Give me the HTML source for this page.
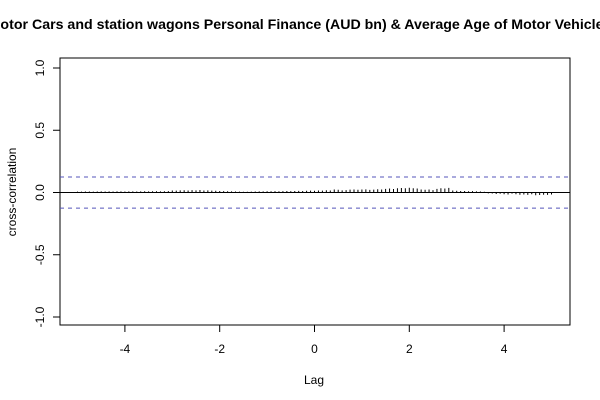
<!DOCTYPE html>
<html><head><meta charset="utf-8"><style>
body{margin:0;background:#fff;}
svg{display:block;font-family:"Liberation Sans",Arial,sans-serif;}
</style></head><body>
<svg id="chart" width="600" height="400">
<text x="300" y="29" text-anchor="middle" font-size="14.2" font-weight="bold">Motor Cars and station wagons Personal Finance (AUD bn) &amp; Average Age of Motor Vehicles</text>
<rect x="60" y="58" width="510" height="267" fill="none" stroke="#000" stroke-width="1"/>
<text x="314" y="384" text-anchor="middle" font-size="12">Lag</text>
<text transform="translate(16,192) rotate(-90)" text-anchor="middle" font-size="12">cross-correlation</text>
<g id="g"></g>
</svg>
<script>
const xTicks=[-4,-2,0,2,4];
const yTicks=[-1.0,-0.5,0.0,0.5,1.0];
const yTickLabels=["-1.0","-0.5","0.0","0.5","1.0"];
const lagStart=-5, lagStep=1/12;
const ciLevel=0.125;
const acfValues=[
0.003,0.003,0.004,0.004,0.003,0.004,0.005,0.004,0.005,0.004,0.005,0.005,
0.004,0.005,0.005,0.004,0.005,0.006,0.005,0.006,0.006,0.005,0.006,0.007,
0.012,0.011,0.013,0.014,0.012,0.015,0.013,0.016,0.012,0.013,0.011,0.01,
0.008,0.007,0.006,0.005,0.004,0.003,0.002,0.002,0.003,0.004,0.005,0.005,
0.006,0.006,0.007,0.006,0.007,0.008,0.007,0.008,0.009,0.008,0.01,0.011,
0.01,0.012,0.011,0.014,0.012,0.02,0.018,0.013,0.015,0.019,0.02,0.018,
0.02,0.021,0.017,0.019,0.022,0.02,0.025,0.028,0.024,0.03,0.032,0.03,
0.034,0.03,0.028,0.02,0.018,0.02,0.015,0.025,0.03,0.028,0.033,0.012,
0.01,0.008,0.008,0.006,0.007,0.005,0.004,0.002,-0.003,-0.004,-0.008,-0.006,
-0.01,-0.012,-0.005,-0.01,-0.014,-0.012,-0.015,-0.01,-0.018,-0.016,-0.014,-0.015,
-0.012];
const X=v=>314.5+v*47.4;
const Y=v=>192.5-v*124.5;
const g=document.getElementById('g');
const NS='http://www.w3.org/2000/svg';
function mk(t,a){const e=document.createElementNS(NS,t);for(const k in a)e.setAttribute(k,a[k]);g.appendChild(e);return e;}
xTicks.forEach(t=>{
 const l=mk('line',{x1:X(t),x2:X(t),y1:325,y2:332,stroke:'#000'});
 
 
 const tx=mk('text',{x:X(t),y:353,'text-anchor':'middle','font-size':12});tx.textContent=t;
 
 
});
yTicks.forEach((t,i)=>{
 const l=mk('line',{x1:53,x2:60,y1:Y(t),y2:Y(t),stroke:'#000'});
 
 
 const tx=mk('text',{transform:`translate(44,${Y(t)}) rotate(-90)`,'text-anchor':'middle','font-size':12});tx.textContent=yTickLabels[i];
 
 
});
const z=mk('line',{x1:60,x2:570,y1:Y(0),y2:Y(0),stroke:'#000'});


[ciLevel,-ciLevel].forEach(c=>{
 const l=mk('line',{x1:60,x2:570,y1:Y(c),y2:Y(c),stroke:'#5555bb','stroke-dasharray':'4,4'});
 
 
});
acfValues.forEach((v,i)=>{
 const x=X(lagStart+i*lagStep);
 const l=mk('line',{x1:x,x2:x,y1:Y(0),y2:Y(v)-(v>=0?0.5:-0.5),stroke:'#000','stroke-width':1});
 
 
});
</script>
</body></html>
